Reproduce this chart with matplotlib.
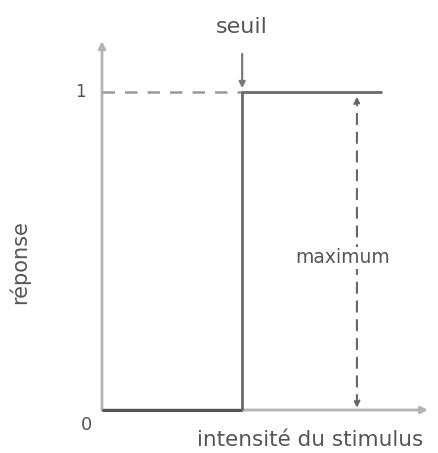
import matplotlib.pyplot as plt

# step response (all-or-none) -- stimulus intensity vs response
stimulus = [0.0, 0.43, 0.43, 0.86]
response = [0, 0, 1, 1]
seuil = 0.43
x_max_arrow = 0.782
ticks_y = [0, 1]
ticks_lbl = ['0', '1']

fig = plt.figure(figsize=(4.38, 4.53), dpi=100)
ax = fig.add_axes([102/438, 43/453, 326/438, 368/453])
ax.set_xlim(0, 1)
ax.set_ylim(0, 368/318)
ax.axis('off')

light = '#b4b4b4'
dark = '#555555'
txt = '#555555'

# axes with arrows
ax.annotate('', xy=(0, 1.16), xytext=(0, 0),
            arrowprops=dict(arrowstyle='-|>', color=light, lw=2, mutation_scale=10,
                            shrinkA=0, shrinkB=0), annotation_clip=False, zorder=1)
ax.annotate('', xy=(1.0, 0), xytext=(0, 0),
            arrowprops=dict(arrowstyle='-|>', color=light, lw=2, mutation_scale=10,
                            shrinkA=0, shrinkB=0), annotation_clip=False, zorder=1)

# response curve
ax.plot(stimulus[:2], response[:2], color=dark, lw=2.2, solid_capstyle='butt', clip_on=False, zorder=4)
ax.plot(stimulus[1:], response[1:], color='#6a6a6a', lw=2.0, solid_capstyle='butt', clip_on=False, zorder=4)

# dashed level of 1
ax.plot([0, seuil], [1, 1], color='#999999', lw=1.8, dashes=(5, 4), clip_on=False)

# seuil arrow
ax.annotate('', xy=(seuil, 1.012), xytext=(seuil, 1.12),
            arrowprops=dict(arrowstyle='-|>', color='#777777', lw=1.5, mutation_scale=9,
                            shrinkA=0, shrinkB=0), annotation_clip=False)
ax.text(seuil, 1.204, 'seuil', ha='center', va='center', fontsize=16, color=txt)

# maximum double arrow
ax.annotate('', xy=(x_max_arrow, 0.985), xytext=(x_max_arrow, 0.007),
            arrowprops=dict(arrowstyle='<|-|>', color='#666666', lw=1.5, mutation_scale=9,
                            linestyle=(0, (5, 4)), shrinkA=0, shrinkB=0))
ax.text(0.739, 0.478, 'maximum', ha='center', va='center', fontsize=13.5, color=txt,
        bbox=dict(facecolor='white', edgecolor='none', pad=1))

# tick labels
ax.text(-0.067, ticks_y[1], ticks_lbl[1], ha='center', va='center', fontsize=12, color=txt)
ax.text(-0.049, -0.047, ticks_lbl[0], ha='center', va='center', fontsize=13, color=txt)

ax.text(-0.252, 0.465, 'réponse', rotation=90, ha='center', va='center', fontsize=15, color=txt)
ax.text(0.638, -0.094, 'intensité du stimulus', ha='center', va='center', fontsize=15.5, color=txt)

fig.savefig('out.png', dpi=100)
